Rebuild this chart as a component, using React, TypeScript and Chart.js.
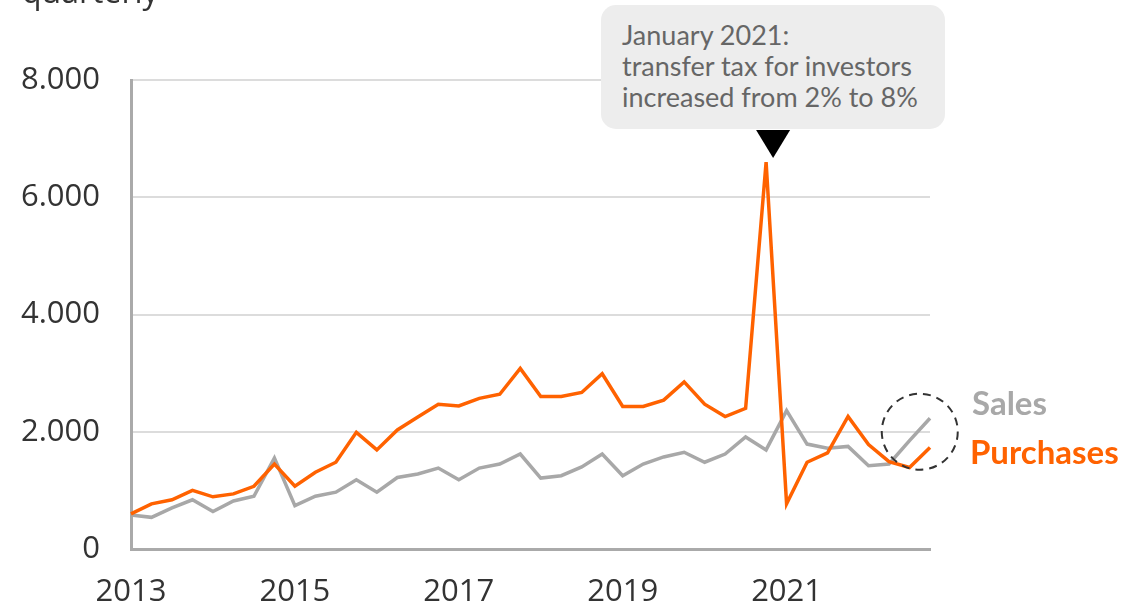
import React, { useEffect, useRef } from "react";
import { Chart, registerables } from "chart.js";

Chart.register(...registerables);

const years = [2013, 2014, 2015, 2016, 2017, 2018, 2019, 2020, 2021, 2022];
const quarterNames = ["Q1", "Q2", "Q3", "Q4"];
const categories: string[] = years.flatMap((y) => quarterNames.map((q) => `${y} ${q}`));

const purchases = [
  600, 770, 840, 1000, 890, 940, 1070, 1450,
  1070, 1310, 1480, 1990, 1690, 2030, 2250, 2470,
  2440, 2570, 2640, 3080, 2600, 2600, 2670, 2990,
  2430, 2430, 2540, 2850, 2470, 2260, 2400, 6600,
  770, 1480, 1640, 2260, 1780, 1490, 1390, 1730,
];
const sales = [
  580, 540, 700, 840, 640, 820, 900, 1550,
  740, 900, 970, 1180, 970, 1220, 1280, 1380,
  1180, 1380, 1450, 1620, 1210, 1250, 1400, 1620,
  1250, 1450, 1570, 1650, 1480, 1620, 1910, 1690,
  2360, 1790, 1720, 1750, 1420, 1450, 1850, 2230,
];
const yTicks = [0, 2000, 4000, 6000, 8000];
const xTickYears = ["2013", "2015", "2017", "2019", "2021"];

const ORANGE = "#FF6200";
const GREY = "#A8A8A8";

const overlayPlugin = {
  id: "overlay",
  afterDraw(chart: any) {
    const { ctx, scales } = chart;
    const x = scales.x;
    const y = scales.y;
    // triangle pointer above the spike
    const px = x.getPixelForValue(31) + 7;
    ctx.save();
    ctx.fillStyle = "#000";
    ctx.beginPath();
    ctx.moveTo(px - 17, 130);
    ctx.lineTo(px + 17, 130);
    ctx.lineTo(px, 158);
    ctx.closePath();
    ctx.fill();
    // dashed circle round the last quarters
    const cx = x.getPixelForValue(38.5);
    const cy = y.getPixelForValue(2000);
    ctx.strokeStyle = "#333";
    ctx.lineWidth = 2;
    ctx.setLineDash([8, 6]);
    ctx.beginPath();
    ctx.arc(cx, cy, 38, 0, Math.PI * 2);
    ctx.stroke();
    ctx.restore();
  },
};

function ChartView() {
  const ref = useRef<HTMLCanvasElement | null>(null);
  useEffect(() => {
    if (!ref.current) return;
    const chart = new Chart(ref.current, {
      type: "line",
      data: {
        labels: categories,
        datasets: [
          {
            label: "Purchases",
            data: purchases,
            borderColor: ORANGE,
            borderWidth: 3.5,
            pointRadius: 0,
            tension: 0,
            fill: false,
          },
          {
            label: "Sales",
            data: sales,
            borderColor: GREY,
            borderWidth: 3.5,
            pointRadius: 0,
            tension: 0,
            fill: false,
          },
        ],
      },
      options: {
        responsive: false,
        animation: false,
        layout: { padding: { top: 80, right: 192, left: 0, bottom: 0 } },
        plugins: { legend: { display: false }, tooltip: { enabled: false } },
        scales: {
          x: {
            type: "category",
            grid: { display: false, drawTicks: false },
            border: { display: true, color: "#AAAAAA", width: 3 },
            ticks: {
              autoSkip: false,
              maxRotation: 0,
              minRotation: 0,
              padding: 25,
              color: "#333",
              font: { family: "'Open Sans'", size: 31 },
              callback: (_v: any, i: number) =>
                i % 8 === 0 ? xTickYears[i / 8] ?? "" : "",
            },
            afterFit: (s: any) => {
              s.height = 59;
            },
          },
          y: {
            min: 0,
            max: 8000,
            afterBuildTicks: (s: any) => {
              s.ticks = yTicks.map((v) => ({ value: v }));
            },
            grid: { color: "#DCDCDC", lineWidth: 2, drawTicks: false },
            border: { display: true, color: "#AAAAAA", width: 3 },
            ticks: {
              padding: 31,
              color: "#333",
              font: { family: "'Open Sans'", size: 31 },
              callback: (v: any) =>
                Number(v) === 0 ? "0" : `${Math.floor(Number(v) / 1000)}.${String(Number(v) % 1000).padStart(3, "0")}`,
            },
            afterFit: (s: any) => {
              s.width = 131;
            },
          },
        },
      },
      plugins: [overlayPlugin],
    } as any);
    return () => chart.destroy();
  }, []);
  return <canvas ref={ref} width={1122} height={608} style={{ display: "block" }} />;
}

export default function App() {
  return (
    <div
      style={{
        position: "absolute",
        left: 0,
        top: 0,
        width: 1122,
        height: 608,
        overflow: "hidden",
        background: "#fff",
        fontFamily: "Lato, 'Open Sans', sans-serif",
      }}
    >
      <ChartView />
      <div
        style={{
          position: "absolute",
          left: 22,
          top: -27,
          fontSize: 32,
          lineHeight: "36px",
          color: "#333",
          fontFamily: "'Open Sans'",
        }}
      >
        quarterly
      </div>
      <div
        style={{
          position: "absolute",
          left: 601,
          top: 5,
          width: 344,
          height: 124,
          boxSizing: "border-box",
          background: "#EDEDED",
          borderRadius: 15,
          padding: "14px 0 0 21px",
          color: "#666",
          fontSize: 27,
          lineHeight: "31px",
          whiteSpace: "nowrap",
        }}
      >
        January 2021:
        <br />
        transfer tax for investors
        <br />
        increased from 2% to 8%
      </div>
      <div
        style={{
          position: "absolute",
          left: 972,
          top: 382,
          fontSize: 33,
          fontWeight: 700,
          color: GREY,
          lineHeight: "40px",
        }}
      >
        Sales
      </div>
      <div
        style={{
          position: "absolute",
          left: 970,
          top: 431,
          fontSize: 33,
          fontWeight: 700,
          color: ORANGE,
          lineHeight: "40px",
        }}
      >
        Purchases
      </div>
    </div>
  );
}
